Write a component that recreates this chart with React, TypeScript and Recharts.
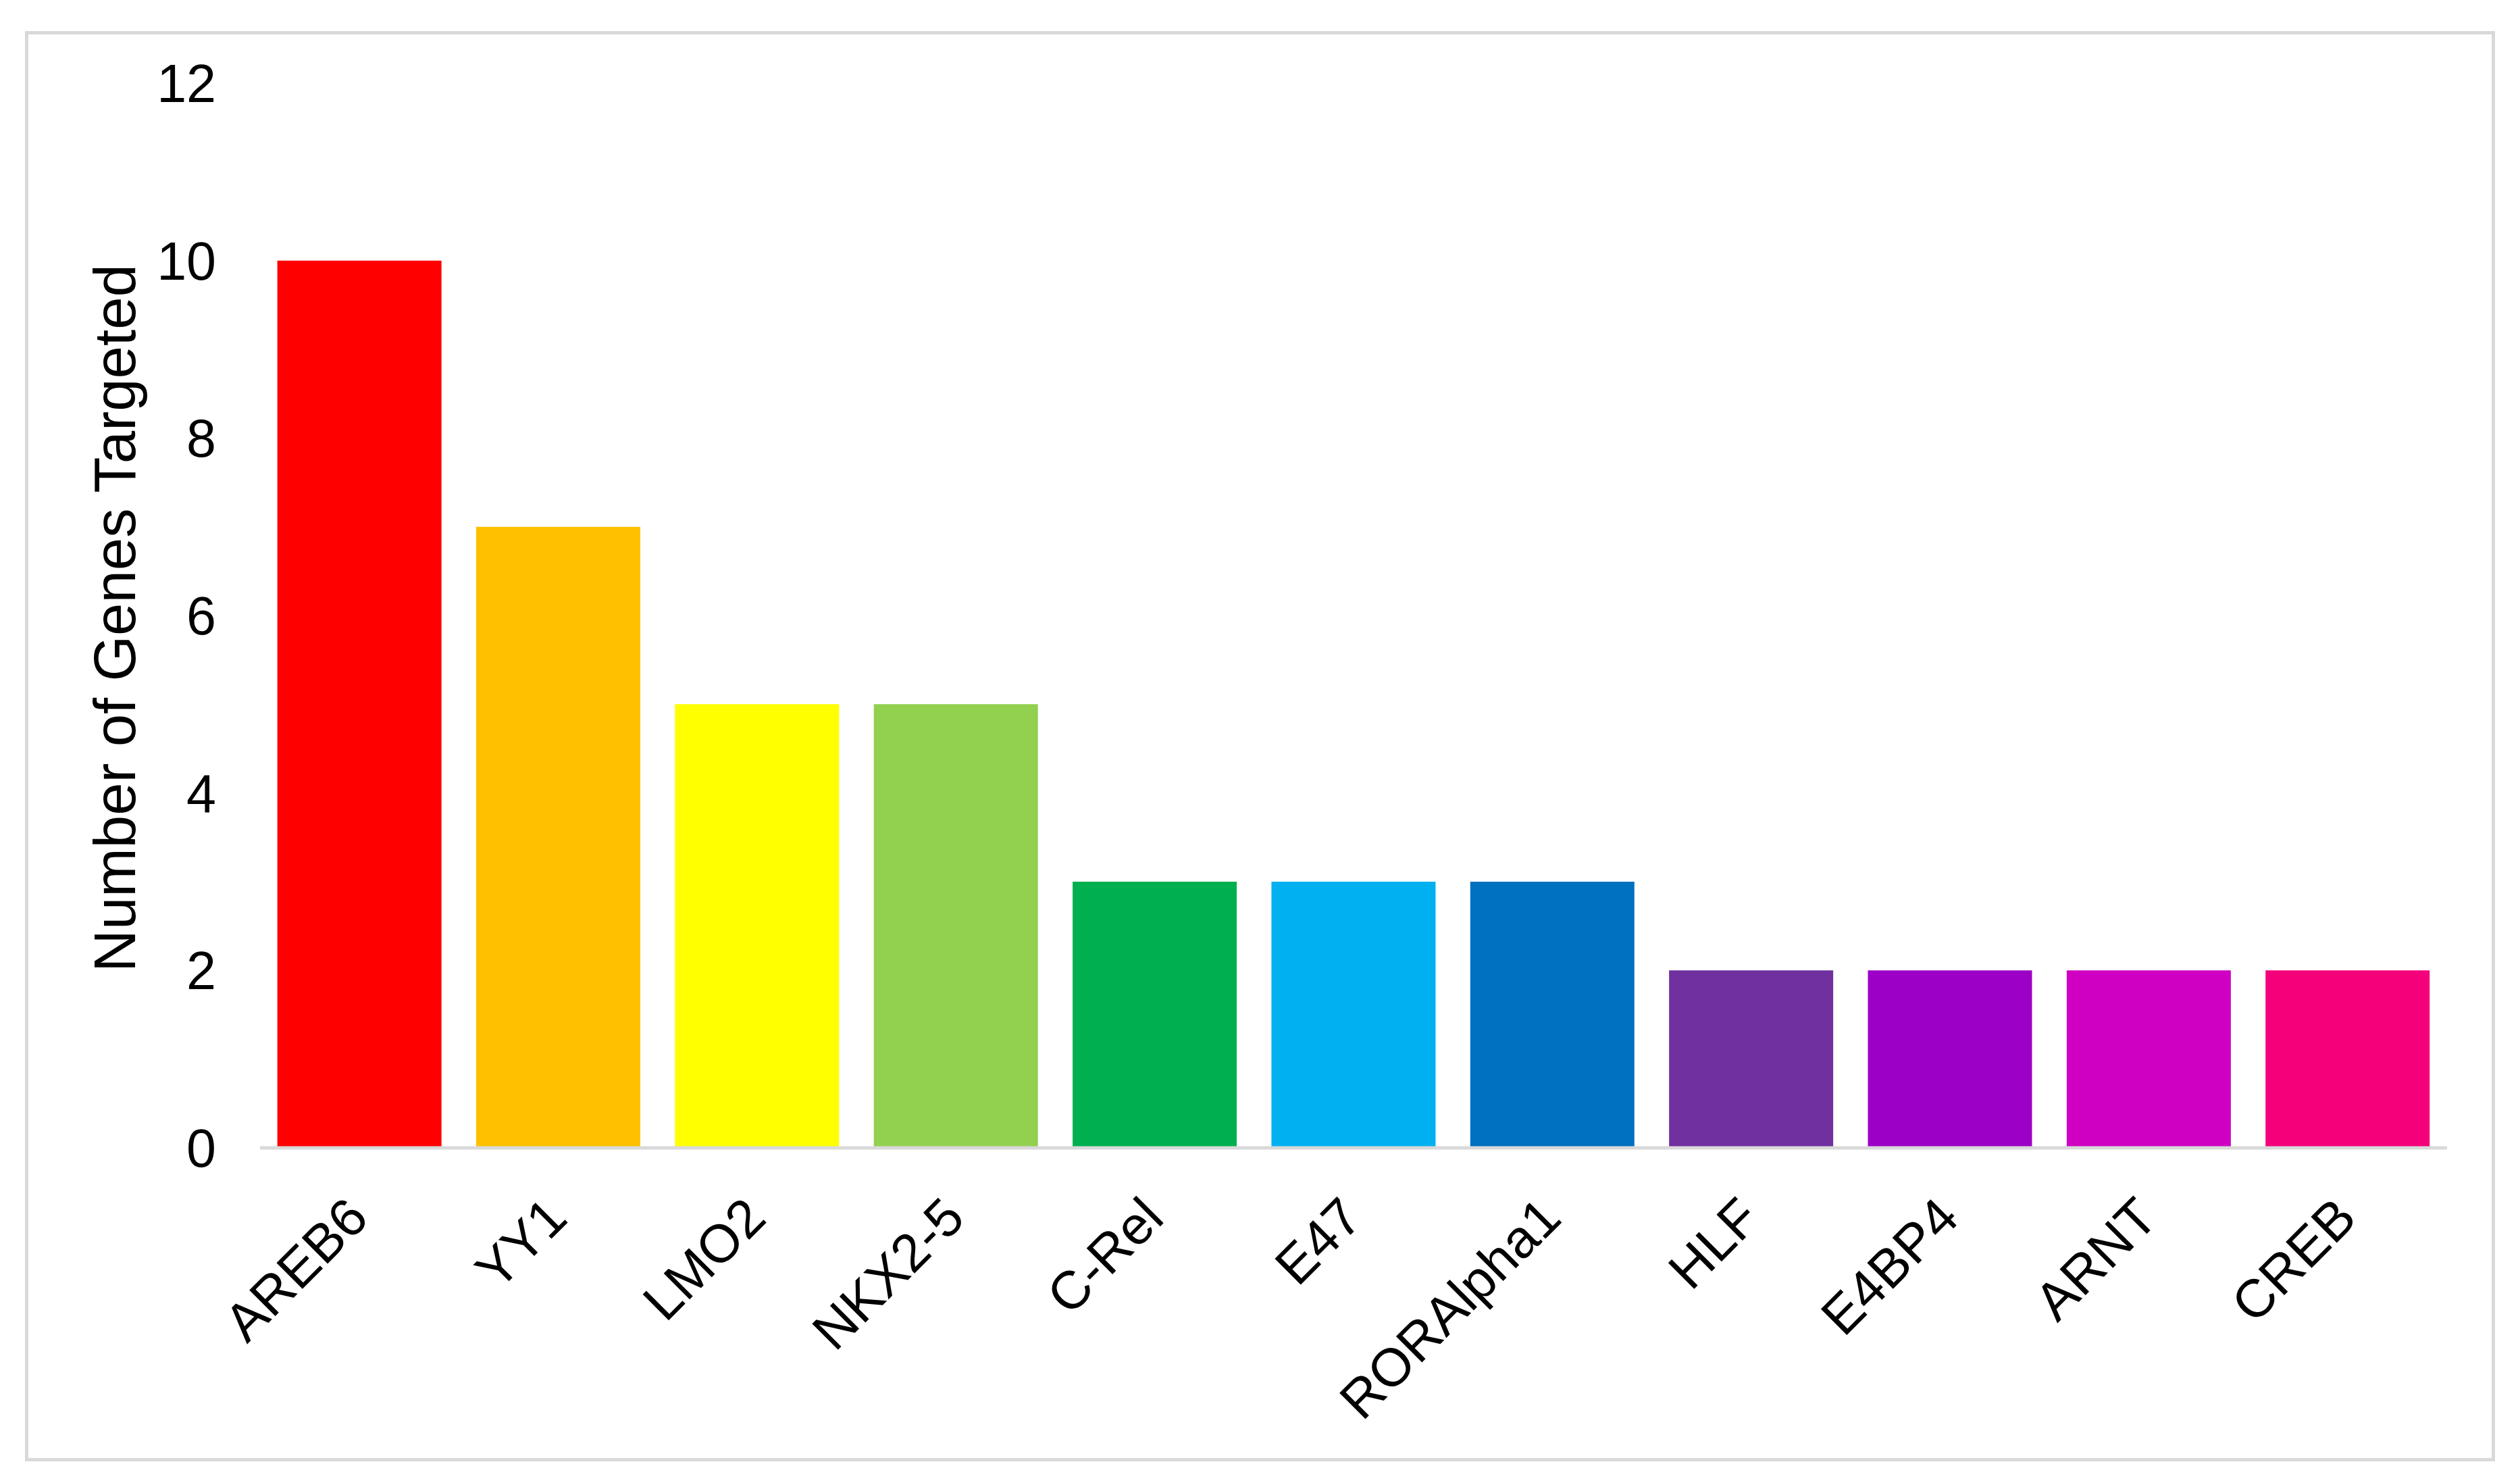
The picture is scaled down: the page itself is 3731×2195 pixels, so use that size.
import React from 'react';
import { BarChart, Bar, XAxis, YAxis, Cell, Label } from 'recharts';

const factors = ['AREB6', 'YY1', 'LMO2', 'NKX2-5', 'C-Rel', 'E47', 'RORAlpha1', 'HLF', 'E4BP4', 'ARNT', 'CREB'];
const genesTargeted = [10, 7, 5, 5, 3, 3, 3, 2, 2, 2, 2];
const yTicks = [0, 2, 4, 6, 8, 10, 12];
const barColors = ['#FF0000', '#FFC000', '#FFFF00', '#92D050', '#00B050', '#00B0F0', '#0070C0', '#7030A0', '#9C00C6', '#D000C2', '#F5007B'];

const FONT = '"Liberation Sans", Arial, sans-serif';

const data = factors.map((name, i) => ({ name, value: genesTargeted[i] }));

// rotated category labels, top-right corner of the text just left of the category centre
const XTick = ({ x, y, payload }: any) => (
    <g transform={`translate(${x - 23},${y})`}>
        <text
            transform="rotate(-45)"
            textAnchor="end"
            dy="0.71em"
            fontSize={79}
            fontFamily={FONT}
            fill="#000"
        >
            {payload.value}
        </text>
    </g>
);

const YTitle = ({ viewBox }: any) => {
    const cx = 200;
    const cy = viewBox.y + viewBox.height / 2 + 4;
    return (
        <text
            x={cx}
            y={cy}
            transform={`rotate(-90, ${cx}, ${cy})`}
            textAnchor="middle"
            fontSize={87}
            fontFamily={FONT}
            fill="#000"
        >
            Number of Genes Targeted
        </text>
    );
};

export default function App() {
    return (
        <div style={{ position: 'absolute', left: 0, top: 0, width: 3731, height: 2195, background: '#fff' }}>
            <div
                style={{
                    position: 'absolute',
                    left: 37,
                    top: 46,
                    width: 3657,
                    height: 2117,
                    border: '5px solid #D9D9D9',
                    boxSizing: 'border-box',
                }}
            />
            <div style={{ position: 'absolute', left: 0, top: 0 }}>
                <BarChart
                    width={3731}
                    height={2195}
                    data={data}
                    margin={{ top: 123, right: 108, bottom: 0, left: 0 }}
                    barCategoryGap="8.7%"
                >
                    <XAxis
                        dataKey="name"
                        interval={0}
                        tickLine={false}
                        axisLine={{ stroke: '#D9D9D9', strokeWidth: 5 }}
                        tick={<XTick />}
                        tickSize={6}
                        tickMargin={62}
                        height={496}
                    />
                    <YAxis
                        width={385}
                        domain={[0, 12]}
                        ticks={yTicks}
                        interval={0}
                        axisLine={false}
                        tickLine={false}
                        tickSize={0}
                        tickMargin={65}
                        tick={{ fontSize: 79, fontFamily: FONT, fill: '#000' }}
                    >
                        <Label content={<YTitle />} />
                    </YAxis>
                    <Bar dataKey="value" isAnimationActive={false}>
                        {data.map((d, i) => (
                            <Cell key={d.name} fill={barColors[i]} />
                        ))}
                    </Bar>
                </BarChart>
            </div>
        </div>
    );
}
